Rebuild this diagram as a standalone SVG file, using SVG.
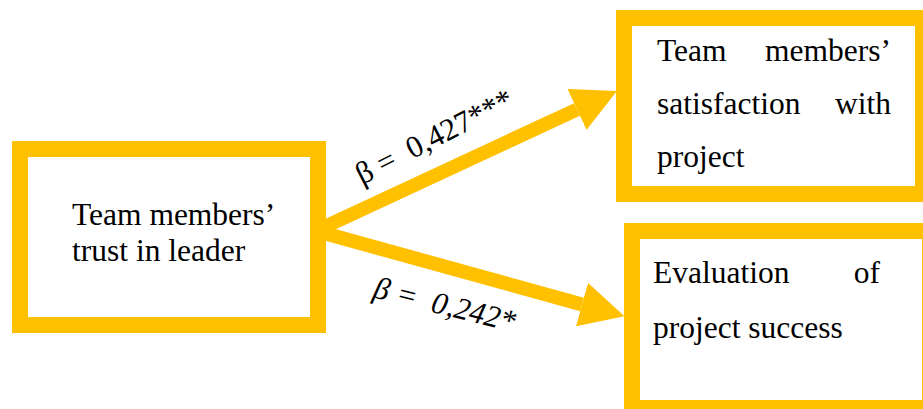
<svg xmlns="http://www.w3.org/2000/svg" width="923" height="409" viewBox="0 0 923 409">
  <style>
    .box { fill: #FFFFFF; stroke: #FFC000; stroke-width: 16; }
    .conn { stroke: #FFC000; stroke-width: 14; fill: none; }
    .t { font-family: "Liberation Serif", "Times New Roman", serif; font-size: 31.5px; fill: #000000; }
    .lbl { font-family: "Liberation Serif", "Times New Roman", serif; font-size: 31px; fill: #000000; white-space: pre; }
  </style>
  <defs>
    <marker id="head" markerUnits="userSpaceOnUse" markerWidth="45" markerHeight="46" refX="0" refY="22.5" orient="auto" viewBox="0 0 45 46">
      <path d="M0,0 L44,22.5 L0,45 Z" fill="#FFC000"/>
    </marker>
  </defs>
  <rect width="923" height="409" fill="#FFFFFF"/>
  <g id="connectors">
    <line class="conn" x1="320" y1="229" x2="577" y2="109.5" marker-end="url(#head)"/>
    <line class="conn" x1="320" y1="232" x2="582" y2="304.5" marker-end="url(#head)"/>
    <text class="lbl" transform="translate(362,185) rotate(-27)">β =  0,427***</text>
    <text class="lbl" font-style="italic" font-size="30" transform="translate(372,297) rotate(14)">β =  0,242*</text>
  </g>
  <g id="trust">
    <rect class="box" x="20" y="149" width="298" height="176"/>
    <text class="t" x="72" y="225">Team members’</text>
    <text class="t" x="72" y="261">trust in leader</text>
  </g>
  <g id="satisfaction">
    <rect class="box" x="624" y="18" width="299" height="176"/>
    <text class="t" x="657" y="61">Team</text>
    <text class="t" x="891" y="61" text-anchor="end">members’</text>
    <text class="t" x="657" y="114">satisfaction</text>
    <text class="t" x="891" y="114" text-anchor="end">with</text>
    <text class="t" x="657" y="167">project</text>
  </g>
  <g id="success">
    <rect class="box" x="632" y="231" width="298" height="177"/>
    <text class="t" x="653" y="283">Evaluation</text>
    <text class="t" x="880" y="283" text-anchor="end">of</text>
    <text class="t" x="653" y="338">project success</text>
  </g>
</svg>
